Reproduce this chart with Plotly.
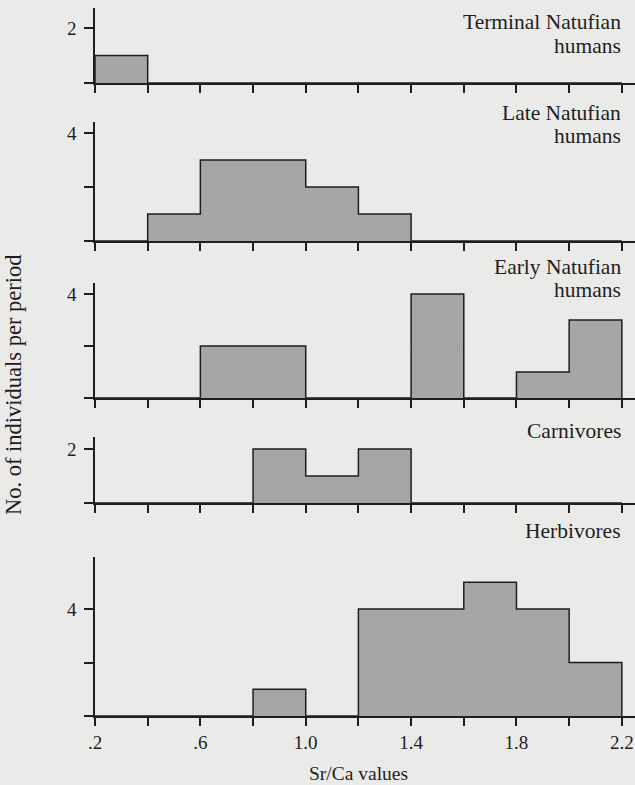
import plotly.graph_objects as go

# ---- data ----
bin_edges = [0.2, 0.4, 0.6, 0.8, 1.0, 1.2, 1.4, 1.6, 1.8, 2.0, 2.2]
x_tick_labels = [".2", "", ".6", "", "1.0", "", "1.4", "", "1.8", "", "2.2"]

panel_names = [["Terminal Natufian", "humans"],
               ["Late Natufian", "humans"],
               ["Early Natufian", "humans"],
               ["Carnivores"],
               ["Herbivores"]]
terminal_counts = [1, 0, 0, 0, 0, 0, 0, 0, 0, 0]
late_counts = [0, 1, 3, 3, 2, 1, 0, 0, 0, 0]
early_counts = [0, 0, 2, 2, 0, 0, 4, 0, 1, 3]
carnivore_counts = [0, 0, 0, 2, 1, 2, 0, 0, 0, 0]
herbivore_counts = [0, 0, 0, 1, 0, 4, 4, 5, 4, 2]
all_counts = [terminal_counts, late_counts, early_counts, carnivore_counts, herbivore_counts]

y_tickvals = [[0, 2], [0, 2, 4], [0, 2, 4], [0, 2], [0, 2, 4]]
y_ticktext = [["", "2"], ["", "", "4"], ["", "", "4"], ["", "2"], ["", "", "4"]]

x_title = "Sr/Ca values"
y_title = "No. of individuals per period"

# ---- layout geometry (pixels) ----
W, H = 635, 785
ML, MR, MT, MB = 95, 0, 0, 69
PH = H - MT - MB
PW = W - ML - MR
boxes = [(8, 83, 27.5), (122, 241, 27.0), (283, 398, 26.0), (437, 503, 27.0), (557, 716, 26.75)]
label_y = [[22, 46], [113, 136], [267, 290], [431], [531]]

FONT = "Liberation Serif"
INK = "#1e1e1e"
BG = "#eaeae8"
FILL = "#a6a6a6"

fig = go.Figure()
layout = dict(width=W, height=H, paper_bgcolor=BG, plot_bgcolor=BG,
              margin=dict(l=ML, r=MR, t=MT, b=MB), showlegend=False,
              font=dict(family=FONT, size=19, color=INK))
annotations = []

for i, counts in enumerate(all_counts):
    n = "" if i == 0 else str(i + 1)
    xs = [bin_edges[0]] + bin_edges + [bin_edges[-1]]
    ys = [0] + counts + [counts[-1], 0]
    fig.add_trace(go.Scatter(x=xs, y=ys, mode="lines", line=dict(shape="hv", color=INK, width=1.5),
                             fill="tozeroy", fillcolor=FILL, xaxis="x" + n, yaxis="y" + n,
                             hoverinfo="skip", cliponaxis=False))
    top, base, unit = boxes[i]
    dom = [(PH - (base - MT)) / PH, (PH - (top - MT)) / PH]
    last = i == len(all_counts) - 1
    layout["xaxis" + n] = dict(domain=[0, 1], anchor="y" + n, range=[0.2, 2.25],
                               tickvals=bin_edges, ticktext=x_tick_labels if last else [""] * len(bin_edges),
                               showticklabels=last, ticks="outside", ticklen=8, tickwidth=1.5, tickcolor=INK,
                               showline=True, linecolor=INK, linewidth=1.5, showgrid=False, zeroline=False,
                               tickfont=dict(size=19), fixedrange=True)
    layout["yaxis" + n] = dict(domain=dom, anchor="x" + n, range=[0, (base - top) / unit],
                               tickvals=y_tickvals[i], ticktext=y_ticktext[i],
                               ticks="outside", ticklen=9, tickwidth=1.5, tickcolor=INK,
                               ticklabelstandoff=4,
                               showline=True, linecolor=INK, linewidth=1.5, showgrid=False, zeroline=False,
                               tickfont=dict(size=19), fixedrange=True)
    for line, py in zip(panel_names[i], label_y[i]):
        annotations.append(dict(text=line, xref="paper", yref="paper",
                                x=(623 - ML) / PW, y=(PH - (py - MT)) / PH,
                                xanchor="right", yanchor="middle", showarrow=False,
                                font=dict(size=21.5, family=FONT, color=INK)))

annotations.append(dict(text=x_title, xref="paper", yref="paper", x=(358 - ML) / PW,
                        y=(PH - (773 - MT)) / PH, xanchor="center", yanchor="middle",
                        showarrow=False, font=dict(size=19.5, family=FONT, color=INK)))
annotations.append(dict(text=y_title, xref="paper", yref="paper", x=(13 - ML) / PW,
                        y=(PH - (385 - MT)) / PH, xanchor="center", yanchor="middle", textangle=-90,
                        showarrow=False, font=dict(size=22.5, family=FONT, color=INK)))
layout["annotations"] = annotations
fig.update_layout(**layout)
fig.write_html("out.html", config={"displayModeBar": False},
               post_script="document.body.style.margin='0';document.body.style.overflow='hidden';")
